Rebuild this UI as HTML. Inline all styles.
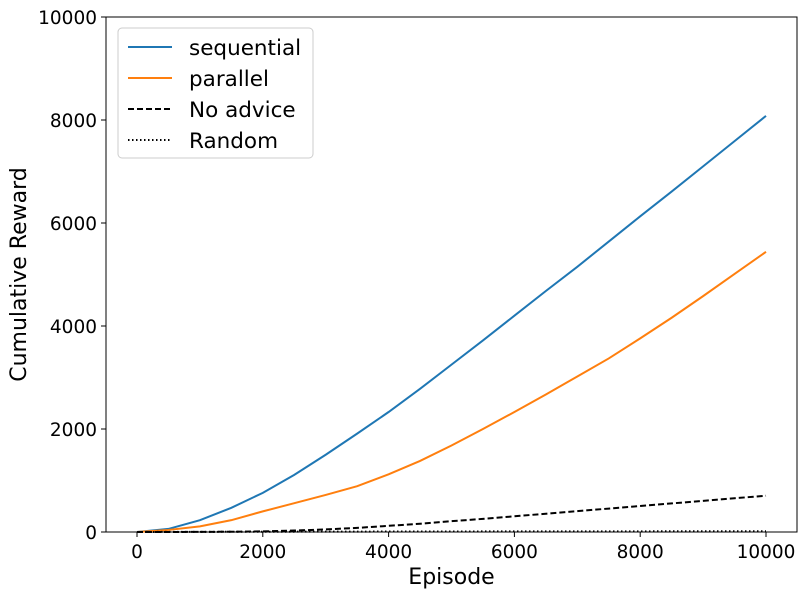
<!DOCTYPE html>
<html><head><meta charset="utf-8"><style>
body{margin:0;background:#fff;font-family:"DejaVu Sans","Liberation Sans",sans-serif;}
svg text{font-family:"DejaVu Sans","Liberation Sans",sans-serif;}
</style></head><body>
<svg id="chart" width="807" height="596">
<g id="axes"></g><g id="series"></g><g id="legend"></g>
</svg>
<script>
const episodes=[0,500,1000,1500,2000,2500,3000,3500,4000,4500,5000,5500,6000,6500,7000,7500,8000,8500,9000,9500,10000];
const sequential=[0,60,230,470,760,1110,1500,1910,2330,2780,3250,3720,4200,4680,5150,5640,6130,6610,7100,7590,8080];
const parallel=[0,40,110,230,400,560,720,890,1120,1380,1680,2000,2330,2670,3020,3370,3760,4160,4580,5010,5440];
const noAdvice=[0,0,2,5,12,28,50,80,120,160,210,255,305,355,405,455,505,555,605,655,705];
const randomRew=[0,2,3,4,5,6,7,8,9,10,10,11,11,12,12,13,13,14,14,15,15];
const xTicks=[0,2000,4000,6000,8000,10000];
const yTicks=[0,2000,4000,6000,8000,10000];
const L=106,R=797,T=17,B=532;
const xs=v=>137+v*(766-137)/10000;
const ys=v=>B-v*(B-T)/10000;
const NS="http://www.w3.org/2000/svg";
function mk(p,tag,attrs,txt){const e=document.createElementNS(NS,tag);for(const k in attrs)e.setAttribute(k,attrs[k]);if(txt!==undefined)e.textContent=txt;p.appendChild(e);return e;}
const ax=document.getElementById('axes');
const frame=mk(ax,'rect',{x:L,y:T,width:R-L,height:B-T,fill:'none',stroke:'#000','stroke-width':1});


xTicks.forEach(v=>{
 const t=mk(ax,'line',{x1:xs(v),x2:xs(v),y1:B,y2:B+5,stroke:'#000'});
 
 
 const l=mk(ax,'text',{x:xs(v),y:B+26,'text-anchor':'middle','font-size':18.5},v);
 
 
});
yTicks.forEach(v=>{
 const t=mk(ax,'line',{x1:L-5,x2:L,y1:ys(v),y2:ys(v),stroke:'#000'});
 
 
 const l=mk(ax,'text',{x:L-9,y:ys(v)+7,'text-anchor':'end','font-size':18.5},v);
 
 
});
const xt=mk(ax,'text',{x:(L+R)/2,y:584,'text-anchor':'middle','font-size':22},'Episode');


const yt=mk(ax,'text',{x:0,y:0,'text-anchor':'middle','font-size':22,transform:`translate(26,${(T+B)/2}) rotate(-90)`},'Cumulative Reward');


const sg=document.getElementById('series');
const defs=[[sequential,'#1f77b4','','sequential','series-sequential'],[parallel,'#ff7f0e','','parallel','series-parallel'],[noAdvice,'#000','6,3','No advice','series-no-advice'],[randomRew,'#000','1.5,2.5','Random','series-random']];
defs.forEach(([d,c,dash,name,dn])=>{
 const pts=episodes.map((e,i)=>xs(e)+','+ys(d[i])).join(' ');
 const p=mk(sg,'polyline',{points:pts,fill:'none',stroke:c,'stroke-width':2,'stroke-dasharray':dash});
 
 
});
const lg=document.getElementById('legend');
const box=mk(lg,'rect',{x:118,y:28,width:195,height:130,rx:4,fill:'#fff','fill-opacity':0.8,stroke:'#ccc'});


defs.forEach(([d,c,dash,name],i)=>{
 const y=47+i*31;
 const ln=mk(lg,'line',{x1:128,x2:172,y1:y,y2:y,stroke:c,'stroke-width':2,'stroke-dasharray':dash});
 
 
 const tx=mk(lg,'text',{x:189,y:y+8,'font-size':21.5},name);
 
 
});
</script>
</body></html>
